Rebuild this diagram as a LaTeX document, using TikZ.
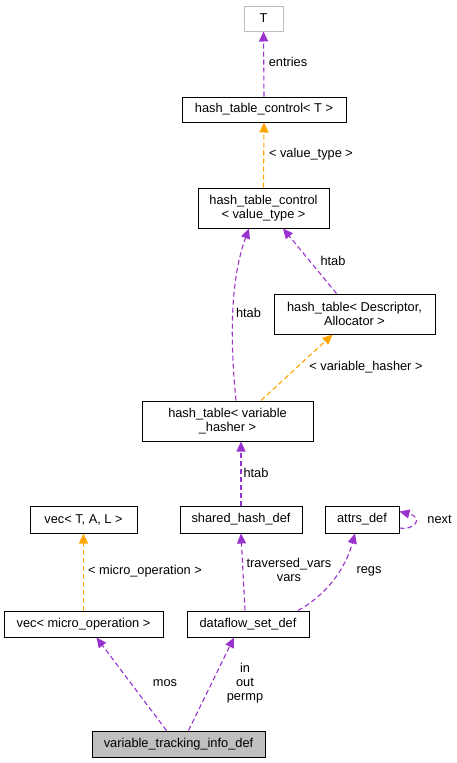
\documentclass[tikz,border=0pt]{standalone}
\usepackage{fontspec}
\setmainfont{Liberation Sans}
\definecolor{UsePurple}{HTML}{9A32CD}
\definecolor{TplOrange}{HTML}{FFA500}
\definecolor{BoxGray}{HTML}{BFBFBF}
\usetikzlibrary{arrows.meta}

\begin{document}
\begin{tikzpicture}[x=1pt, y=-1pt,
      cls/.style={draw=black, line width=1pt, fill=white,
                  inner sep=2pt, align=center, minimum height=26pt},
      clstwo/.style={cls, minimum height=40pt},
      usearrow/.style={-{Triangle[length=10pt,width=9pt]}, UsePurple,
                       line width=1.1pt, dash pattern=on 5pt off 3pt},
      tplarrow/.style={-{Triangle[length=10pt,width=9pt]}, TplOrange,
                       line width=1.1pt, dash pattern=on 5pt off 3pt},
      lbl/.style={inner sep=0pt, align=center},
      every node/.style={font=\fontsize{12.8}{14}\selectfont}]

      \useasboundingbox (0,0) rectangle (457,763);

      \node[cls, draw=BoxGray, minimum width=39pt, minimum height=25pt] (T) at (263.5,18.5) {T};
      \node[cls, minimum width=164pt, minimum height=25pt] (htct) at (264,109.5) {hash\_table\_control< T >};
      \node[clstwo, minimum width=131pt] (htcv) at (263.5,208) {hash\_table\_control\\< value\_type >};
      \node[clstwo, minimum width=161pt] (htda) at (354.5,314) {hash\_table< Descriptor,\\ Allocator >};
      \node[clstwo, minimum width=171pt] (htvh) at (227.5,421) {hash\_table< variable\\ \_hasher >};
      \node[cls, minimum width=107pt, minimum height=27pt] (vtal) at (83.5,519.5) {vec< T, A, L >};
      \node[cls, minimum width=122pt, minimum height=27pt] (shd) at (241,519.5) {shared\_hash\_def};
      \node[cls, minimum width=74pt, minimum height=27pt] (attrs) at (362,519.5) {attrs\_def};
      \node[cls, minimum width=159pt] (vmo) at (83.5,624) {vec< micro\_operation >};
      \node[cls, minimum width=122pt] (dsd) at (248,624) {dataflow\_set\_def};
      \node[cls, fill=BoxGray, minimum width=173pt] (vti) at (178.5,744) {variable\_tracking\_info\_def};

      \draw[usearrow] (htct.north) -- (T.south);
      \draw[tplarrow] (htcv.north) -- (htct.south);
      \draw[usearrow] ([xshift=8.5pt]htvh.north) .. controls (230,340) and (230,280) .. ([xshift=-14.5pt]htcv.south);
      \draw[usearrow] ([xshift=-18pt]htda.north) -- ([xshift=19.5pt]htcv.south);
      \draw[tplarrow] ([xshift=33.5pt]htvh.north) -- ([xshift=-22pt]htda.south);
      \draw[usearrow] (shd.north) -- (shd.north |- htvh.south);
      \draw[tplarrow] (vmo.north) -- (vtal.south);
      \draw[usearrow] ([xshift=-3pt]dsd.north) -- (shd.south);
      \draw[usearrow] ([xshift=50pt]dsd.north) .. controls (325,596) and (345,570) .. ([xshift=-7pt]attrs.south);
      \draw[usearrow] ([yshift=-8.5pt]attrs.east) .. controls (413,531) and (425,518) .. ([yshift=8pt]attrs.east);
      \draw[usearrow] ([xshift=-12pt]vti.north) -- ([xshift=13pt]vmo.south);
      \draw[usearrow] ([xshift=10pt]vti.north) -- ([xshift=-14pt]dsd.south);

      \node[lbl] (lentries) at (288,62) {entries};
      \node[lbl] (lvaltype) at (311,154) {< value\_type >};
      \node[lbl] (lhtabl) at (248.5,313) {htab};
      \node[lbl] (lhtabr) at (333,261) {htab};
      \node[lbl] (lvarhash) at (366,367) {< variable\_hasher >};
      \node[lbl] (lhtabb) at (256,473) {htab};
      \node[lbl] (lmicro) at (145,571) {< micro\_operation >};
      \node[lbl] (ltrav) at (289,570) {traversed\_vars\\vars};
      \node[lbl] (lregs) at (369,571) {regs};
      \node[lbl] (lnext) at (439.5,519) {next};
      \node[lbl] (lmos) at (165,683) {mos};
      \node[lbl] (linout) at (245,683) {in\\out\\permp};
\end{tikzpicture}
\end{document}
